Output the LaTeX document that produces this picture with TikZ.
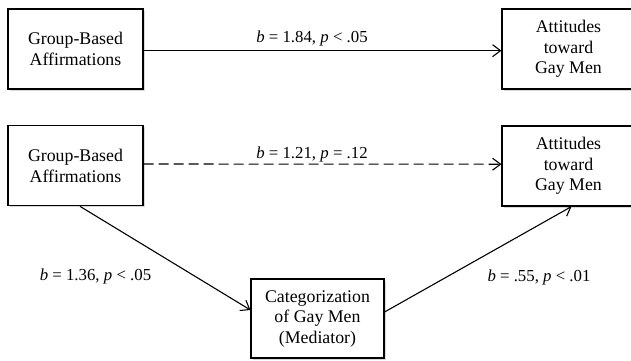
\documentclass[tikz,border=0pt]{standalone}
\usepackage{fontspec}
\setmainfont{Liberation Serif}
\usetikzlibrary{arrows.meta,shadows}
\begin{document}
\begin{tikzpicture}[x=1pt,y=-1pt,
  box/.style={draw, line width=1.1pt, fill=white, align=center, inner sep=0pt,
    minimum height=80pt, font=\fontsize{17.8}{20.5}\selectfont,
    drop shadow={shadow xshift=1.5pt, shadow yshift=-1.5pt, fill=black!25, opacity=0.6}},
  conn/.style={line width=1.1pt, -{Straight Barb[length=8pt,width=12pt,line width=1.1pt]}},
  lab/.style={font=\fontsize{16.8}{19}\selectfont, inner sep=0pt}]
\useasboundingbox (0,0) rectangle (631,360);
% top model
\node[box, minimum width=135pt] (a1) at (75.5,49) {Group-Based\\Affirmations};
\node[box, minimum width=133pt] (b1) at (568.5,49) {Attitudes\\toward\\Gay Men};
\draw[conn] ([yshift=-1.7pt]a1.east) -- ([yshift=-1.7pt]b1.west);
\node[lab] (l1) at (312,38) {\textit{b} = 1.84, \textit{p} < .05};
% bottom model
\node[box, minimum width=135pt] (a2) at (75.5,165.8) {Group-Based\\Affirmations};
\node[box, minimum width=133pt] (b2) at (568.5,166) {Attitudes\\toward\\Gay Men};
\node[box, minimum width=133pt, minimum height=79pt] (m) at (317.5,318.5) {Categorization\\of Gay Men\\(Mediator)};
\draw[conn, dash pattern=on 10pt off 5pt] ([yshift=1.8pt]a2.east) -- ([yshift=1.8pt]b2.west);
\node[lab] (l2) at (312,154) {\textit{b} = 1.21, \textit{p} = .12};
\draw[conn] ([xshift=4.5pt]a2.south) -- ([yshift=8.5pt]m.west);
\draw[conn] ([yshift=6.5pt]m.east) -- ([xshift=3pt]b2.south);
\node[lab] (l3) at (95.5,276) {\textit{b} = 1.36, \textit{p} < .05};
\node[lab] (l4) at (539,277) {\textit{b} = .55, \textit{p} < .01};
\end{tikzpicture}
\end{document}
